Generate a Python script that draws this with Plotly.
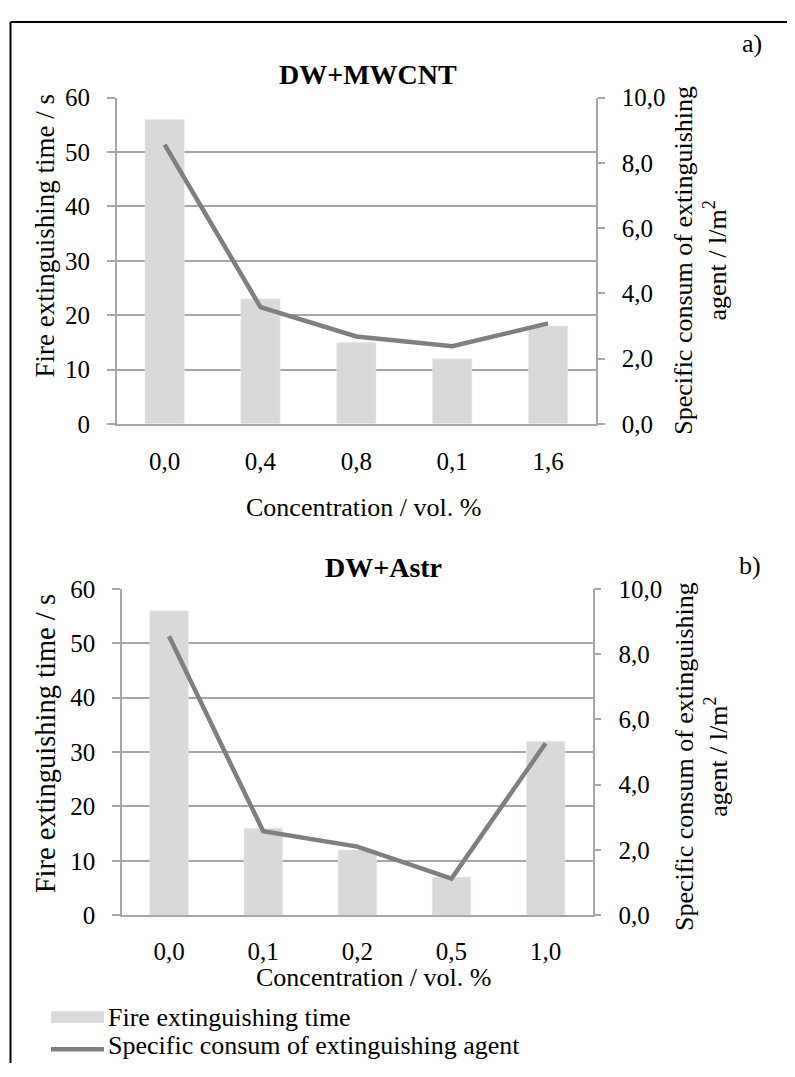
import plotly.graph_objects as go

# ---------------- data ----------------
categories_a = ["0,0", "0,4", "0,8", "0,1", "1,6"]
time_a = [56, 23, 15, 12, 18]
consum_a = [8.56, 3.58, 2.68, 2.38, 3.08]

categories_b = ["0,0", "0,1", "0,2", "0,5", "1,0"]
time_b = [56, 16, 12, 7, 32]
consum_b = [8.55, 2.57, 2.10, 1.12, 5.27]

left_tickvals = [0, 10, 20, 30, 40, 50, 60]
left_ticktext = ["0", "10", "20", "30", "40", "50", "60"]
right_tickvals = [0, 2, 4, 6, 8, 10]
right_ticktext = ["0,0", "2,0", "4,0", "6,0", "8,0", "10,0"]

series_names = ["Fire extinguishing time", "Specific consum of extinguishing agent"]
titles = ["DW+MWCNT", "DW+Astr"]
panel_labels = ["a)", "b)"]
x_title = "Concentration / vol. %"
y_left_title = "Fire extinguishing time / s"
y_right_title = "Specific consum of extinguishing<br>agent / l/m<sup>2</sup>"

# ---------------- style ----------------
# the page body adds an 8 px margin, so the figure is made 8 px smaller
# and all page positions below are shifted by that margin
PAGE_W, PAGE_H = 795, 1077
OFF = 8
W, H = PAGE_W - OFF, PAGE_H - OFF
FONT = "Liberation Serif"
BAR_COLOR = "#d9d9d9"
LINE_COLOR = "#7f7f7f"
GRID_COLOR = "#a6a6a6"


def px_x(x):
    return (x - OFF) / W


def px_y(y):
    return 1 - (y - OFF) / H


fig = go.Figure()

# top chart traces
fig.add_trace(go.Bar(x=categories_a, y=time_a, name=series_names[0], marker_color=BAR_COLOR,
                     width=0.41, xaxis="x", yaxis="y", showlegend=False))
fig.add_trace(go.Scatter(x=categories_a, y=consum_a, name=series_names[1], mode="lines",
                         line=dict(color=LINE_COLOR, width=4.5), xaxis="x", yaxis="y2",
                         showlegend=False))
# bottom chart traces
fig.add_trace(go.Bar(x=categories_b, y=time_b, name=series_names[0], marker_color=BAR_COLOR,
                     width=0.41, xaxis="x2", yaxis="y3", showlegend=False))
fig.add_trace(go.Scatter(x=categories_b, y=consum_b, name=series_names[1], mode="lines",
                         line=dict(color=LINE_COLOR, width=4.5), xaxis="x2", yaxis="y4",
                         showlegend=False))

tick_font = dict(family=FONT, size=25, color="black")


def xaxis_cfg(dom, anchor, standoff):
    return dict(domain=dom, anchor=anchor, type="category", showline=True, linecolor=GRID_COLOR,
                linewidth=1.5, ticks="", showgrid=False, tickfont=tick_font,
                ticklabelstandoff=standoff, fixedrange=True)


def yleft_cfg(dom, anchor):
    return dict(domain=dom, anchor=anchor, range=[0, 60], tickvals=left_tickvals,
                ticktext=left_ticktext, showgrid=True, gridcolor=GRID_COLOR, gridwidth=1.5,
                showline=True, linecolor=GRID_COLOR, linewidth=1.5, ticks="outside",
                ticklen=8, tickcolor=GRID_COLOR, tickwidth=1.5, tickfont=tick_font,
                ticklabelstandoff=12, zeroline=False)


def yright_cfg(anchor, overlay):
    return dict(anchor=anchor, overlaying=overlay, side="right", range=[0, 10],
                tickvals=right_tickvals, ticktext=right_ticktext, showgrid=False,
                showline=True, linecolor=GRID_COLOR, linewidth=1.5, ticks="outside",
                ticklen=7, tickcolor=GRID_COLOR, tickwidth=1.5, tickfont=tick_font,
                ticklabelstandoff=12, zeroline=False)


top_x = [px_x(116.7), px_x(596)]
top_y = [px_y(421.3), px_y(86.7)]
bot_x = [px_x(122), px_x(592.7)]
bot_y = [px_y(925.3), px_y(590.7)]

fig.update_layout(
    width=W, height=H,
    margin=dict(l=0, r=0, t=0, b=0),
    paper_bgcolor="white", plot_bgcolor="white",
    font=dict(family=FONT, color="black"),
    xaxis=xaxis_cfg(top_x, "y", 14),
    yaxis=yleft_cfg(top_y, "x"),
    yaxis2=yright_cfg("x", "y"),
    xaxis2=xaxis_cfg(bot_x, "y3", 13),
    yaxis3=yleft_cfg(bot_y, "x2"),
    yaxis4=yright_cfg("x2", "y3"),
)

ann = []


def add_text(text, x, y, size, bold=False, angle=0, xanchor="center"):
    ann.append(dict(text=f"<b>{text}</b>" if bold else text, x=px_x(x), y=px_y(y),
                    xref="paper", yref="paper", showarrow=False, xanchor=xanchor,
                    yanchor="middle", textangle=angle,
                    font=dict(family=FONT, size=size, color="black")))


# chart titles and panel labels
add_text(titles[0], 368, 63, 28, bold=True)
add_text(titles[1], 383, 569, 28, bold=True)
add_text(panel_labels[0], 752, 31, 26)
add_text(panel_labels[1], 750, 567, 26)
# x axis titles
add_text(x_title, 363, 507, 26)
add_text(x_title, 373, 989, 26)
# left y titles
add_text(y_left_title, 45, 228, 27, angle=-90)
add_text(y_left_title, 45, 750, 28.5, angle=-90)
# right y titles
add_text(y_right_title, 701, 254, 26, angle=-90)
add_text(y_right_title, 702, 763, 26, angle=-90)
# legend texts
add_text(series_names[0], 106, 1030, 26, xanchor="left")
add_text(series_names[1], 106, 1059, 26, xanchor="left")

shapes = [
    # frame lines
    dict(type="line", xref="paper", yref="paper", x0=px_x(10.5), x1=px_x(10.5),
         y0=px_y(9), y1=0, line=dict(color="black", width=2)),
    dict(type="line", xref="paper", yref="paper", x0=px_x(10.5), x1=1,
         y0=px_y(9), y1=px_y(9), line=dict(color="black", width=2)),
    # legend symbols
    dict(type="rect", xref="paper", yref="paper", x0=px_x(51), x1=px_x(104),
         y0=px_y(1036), y1=px_y(1024), fillcolor=BAR_COLOR, line=dict(width=0)),
    dict(type="line", xref="paper", yref="paper", x0=px_x(51), x1=px_x(104),
         y0=px_y(1063), y1=px_y(1063), line=dict(color=LINE_COLOR, width=4.5)),
]

fig.update_layout(annotations=ann, shapes=shapes)
fig.write_html("out.html")
